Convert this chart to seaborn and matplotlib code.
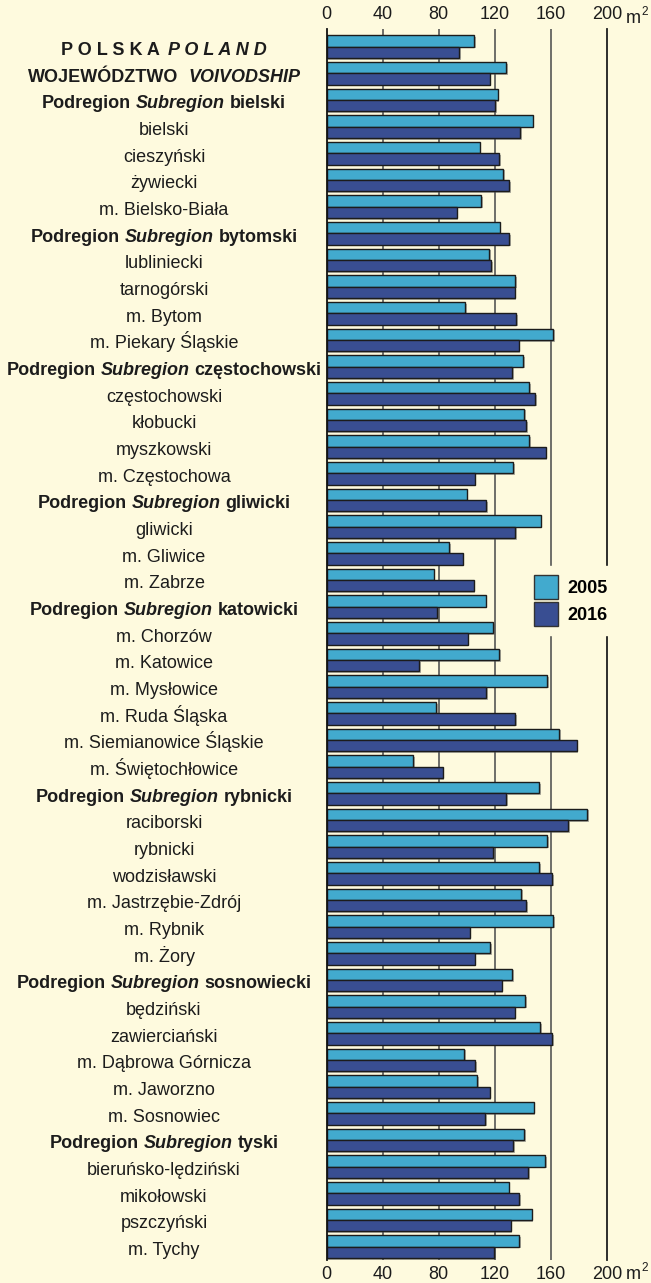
import pandas as pd
import numpy as np
import seaborn as sns
import matplotlib
matplotlib.use('Agg')
import matplotlib.pyplot as plt
import matplotlib.patheffects as pe
from matplotlib.patches import Patch
from matplotlib import transforms

# data (m2)
regions = [
    'POLSKA POLAND', 'WOJEWÓDZTWO VOIVODSHIP',
    'Podregion Subregion bielski', 'bielski', 'cieszyński', 'żywiecki', 'm. Bielsko-Biała',
    'Podregion Subregion bytomski', 'lubliniecki', 'tarnogórski', 'm. Bytom', 'm. Piekary Śląskie',
    'Podregion Subregion częstochowski', 'częstochowski', 'kłobucki', 'myszkowski', 'm. Częstochowa',
    'Podregion Subregion gliwicki', 'gliwicki', 'm. Gliwice', 'm. Zabrze',
    'Podregion Subregion katowicki', 'm. Chorzów', 'm. Katowice', 'm. Mysłowice', 'm. Ruda Śląska',
    'm. Siemianowice Śląskie', 'm. Świętochłowice',
    'Podregion Subregion rybnicki', 'raciborski', 'rybnicki', 'wodzisławski', 'm. Jastrzębie-Zdrój',
    'm. Rybnik', 'm. Żory',
    'Podregion Subregion sosnowiecki', 'będziński', 'zawierciański', 'm. Dąbrowa Górnicza',
    'm. Jaworzno', 'm. Sosnowiec',
    'Podregion Subregion tyski', 'bieruńsko-lędziński', 'mikołowski', 'pszczyński', 'm. Tychy',
]
v2005 = [105.3, 128.1, 122.0, 146.9, 109.1, 126.0, 110.3, 123.4, 115.8, 134.5, 98.9, 161.6,
         140.2, 144.5, 140.9, 144.5, 133.1, 99.9, 152.6, 87.5, 76.4, 113.4, 118.9, 123.1,
         157.3, 78.2, 165.7, 61.6, 151.4, 185.8, 157.3, 151.6, 138.8, 161.6, 116.7, 132.4,
         141.7, 152.3, 98.0, 107.5, 147.6, 140.7, 155.9, 129.8, 146.2, 137.2]
v2016 = [94.6, 116.3, 120.3, 137.9, 123.1, 130.3, 92.8, 130.3, 117.2, 134.1, 135.2, 136.9,
         132.4, 148.8, 142.6, 156.2, 105.6, 113.6, 134.5, 97.0, 104.9, 78.7, 100.6, 65.9,
         113.6, 134.5, 178.3, 82.8, 128.1, 172.3, 118.9, 160.9, 142.6, 102.0, 105.6, 124.8,
         134.1, 160.9, 106.0, 116.3, 113.2, 133.1, 143.8, 137.6, 131.2, 119.6]
years = ['2005', '2016']
xticks = [0, 40, 80, 120, 160, 200]

bg = '#FEFADE'
c05 = '#42AACE'
c16 = '#394E92'
ink = '#1c1c1c'
fs = 13

plt.rcParams['font.family'] = ['Liberation Sans', 'DejaVu Sans']

df = pd.DataFrame({
    'region': regions * 2,
    'value': v2005 + v2016,
    'year': [years[0]] * len(regions) + [years[1]] * len(regions),
})

W, H = 651, 1283
fig = plt.figure(figsize=(W / 100, H / 100), dpi=100, facecolor=bg)
ax = fig.add_axes([326.5 / W, 1 - 1260 / H, (607 - 326.5) / W, (1260 - 29) / H])
ax.set_facecolor(bg)

sns.barplot(data=df, x='value', y='region', hue='year', order=regions, hue_order=years,
            palette=[c05, c16], saturation=1, width=0.85, edgecolor=ink, linewidth=1.0,
            orient='h', legend=False, ax=ax, zorder=3)

for p in ax.patches:
    p.set_path_effects([pe.SimplePatchShadow(offset=(1.3, -1.3), shadow_rgbFace='#555555', alpha=0.45),
                        pe.Normal()])

# vertical reference lines
for t in xticks[1:]:
    if t == 200:
        ax.axvline(t, color='#1e1e1e', lw=1.3, zorder=1, clip_on=False)
    else:
        ax.axvline(t, color='#6e6e68', lw=1.4, zorder=1)

ax.set_xlim(0, 200)
ax.set_ylim(len(regions) - 0.5, -0.66)
ax.set_xticks(xticks)
ax.set_xticklabels([str(t) for t in xticks])
ax.xaxis.set_ticks_position('both')
ax.tick_params(axis='x', length=0, labeltop=True, labelbottom=True, labelsize=fs,
               labelcolor=ink, pad=4)
ax.tick_params(axis='y', left=False, labelleft=False)
ax.set_xlabel('')
ax.set_ylabel('')
for s in ['top', 'right', 'bottom']:
    ax.spines[s].set_visible(False)
ax.spines['left'].set_color('#111111')
ax.spines['left'].set_linewidth(1.3)
ax.spines['left'].set_zorder(4)

# unit label m2 at both ends of the axis
for base in [23, 1279]:
    fig.text(626 / W, 1 - base / H, 'm', fontsize=fs, color=ink, ha='left', va='baseline')
    fig.text(641 / W, 1 - (base - 8) / H, '2', fontsize=8.5, color=ink, ha='left', va='baseline')

# legend
handles = [Patch(facecolor=c05, edgecolor='#333333', lw=1.0),
           Patch(facecolor=c16, edgecolor='#333333', lw=1.0)]
leg = ax.legend(handles, years, loc='upper left', bbox_to_anchor=(525 / W, 1 - 566 / H),
                bbox_transform=fig.transFigure, borderaxespad=0, borderpad=0.5,
                frameon=True, facecolor=bg, edgecolor=bg, framealpha=1, fancybox=False,
                handlelength=1.3, handleheight=1.66, labelspacing=0.17, handletextpad=0.55,
                prop={'size': fs, 'weight': 'bold'})
leg.set_zorder(5)

# row labels, mixed bold / italic pieces centred in the left column
fig.canvas.draw()
renderer = fig.canvas.get_renderer()
trans = transforms.blended_transform_factory(fig.transFigure, ax.transData)
space = 0.278 * fs * 100 / 72


def pieces_for(name):
    if name == 'POLSKA POLAND':
        return [('P O L S K A', 'normal'), ('P O L A N D', 'italic')], True, space * 1.5
    if name == 'WOJEWÓDZTWO VOIVODSHIP':
        return [('WOJEWÓDZTWO', 'normal'), ('VOIVODSHIP', 'italic')], True, space * 2
    if name.startswith('Podregion'):
        rest = name.split(' ', 2)[2]
        return [('Podregion', 'normal'), ('Subregion', 'italic'), (rest, 'normal')], True, space
    return [(name, 'normal')], False, space


for i, name in enumerate(regions):
    parts, bold, gap = pieces_for(name)
    texts = []
    for s, style in parts:
        t = fig.text(0, i + 0.31, s, transform=trans, fontsize=fs, color=ink,
                     fontweight='bold' if bold else 'normal', fontstyle=style,
                     ha='left', va='baseline')
        texts.append(t)
    widths = [t.get_window_extent(renderer).width for t in texts]
    total = sum(widths) + gap * (len(widths) - 1)
    x = 164 - total / 2
    for t, w in zip(texts, widths):
        t.set_x(x / W)
        x += w + gap

fig.savefig('out.png', dpi=100, facecolor=bg)
